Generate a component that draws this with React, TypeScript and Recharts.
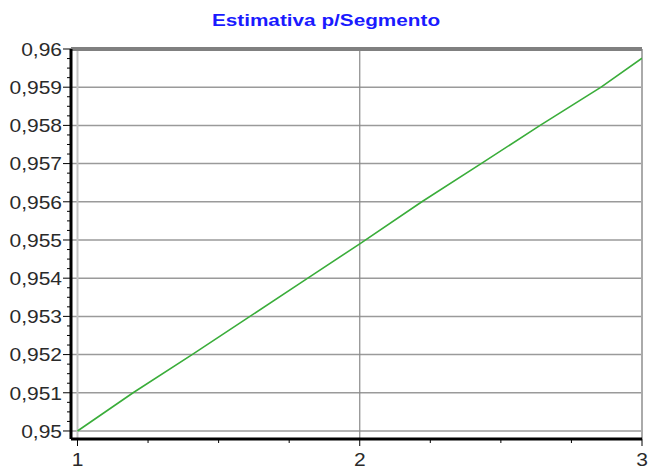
import { LineChart, Line, XAxis, YAxis, ReferenceLine } from "recharts"

// points (x = segment, y = estimate)
const segX = [1, 1.197, 1.406, 1.611, 1.816, 2, 2.22, 2.43, 2.639, 2.855, 3]
const estY = [0.95, 0.951, 0.952, 0.953, 0.954, 0.9549, 0.956, 0.957, 0.958, 0.959, 0.95976]

// axis ticks
const yMajor = [0.95, 0.951, 0.952, 0.953, 0.954, 0.955, 0.956, 0.957, 0.958, 0.959, 0.96]
const xMajor = [1, 2, 3]

const data = segX.map((x, i) => ({ x, y: estY[i] }))

// minor ticks at quarter steps between majors
const yMinor = yMajor.slice(0, -1).flatMap((v) => [1, 2, 3].map((k) => v + k * 0.00025))
const xMinor = xMajor.slice(0, -1).flatMap((v) => [1, 2, 3].map((k) => v + k * 0.25))

const FONT = "'Liberation Sans', Arial, sans-serif"
const fmt = (v: number) => String(Number(v.toFixed(4))).replace(".", ",")

const isMajor = (v: number, list: number[]) => list.some((m) => Math.abs(m - v) < 1e-7)

const YTick = ({ x, y, payload }: any) => {
  const major = isMajor(payload.value, yMajor)
  return (
    <g>
      <line x1={x - (major ? 8 : 4)} y1={y} x2={x} y2={y} stroke="#000" strokeWidth={1} />
      {major && (
        <text
          transform={`translate(${x - 9},${y + 1}) scale(1.2,1)`}
          textAnchor="end"
          dominantBaseline="central"
          fontFamily={FONT}
          fontSize={17.5}
          fill="#2a2a2a"
        >
          {fmt(payload.value)}
        </text>
      )}
    </g>
  )
}

const XTick = ({ x, y, payload }: any) => {
  const major = isMajor(payload.value, xMajor)
  return (
    <g>
      <line x1={x} y1={y} x2={x} y2={y + (major ? 7 : 4)} stroke="#000" strokeWidth={1} />
      {major && (
        <text
          transform={`translate(${x},${y + 21}) scale(1.2,1)`}
          textAnchor="middle"
          dominantBaseline="central"
          fontFamily={FONT}
          fontSize={17.5}
          fill="#2a2a2a"
        >
          {payload.value}
        </text>
      )}
    </g>
  )
}

export default function App() {
  return (
    <div style={{ position: "absolute", left: 0, top: 0, width: 648, height: 471, background: "#fff" }}>
      <div
        style={{
          position: "absolute",
          left: 0,
          top: 11,
          width: 648,
          textAlign: "center",
          fontFamily: FONT,
          fontWeight: "bold",
          fontSize: 17,
          color: "#1a1aff",
          transform: "translateX(2px) scaleX(1.22)",
        }}
      >
        Estimativa p/Segmento
      </div>
      <LineChart width={648} height={471} data={data} margin={{ top: 49, right: 6, bottom: 0, left: 0 }}>
        {yMajor.slice(0, -1).map((v) => (
          <ReferenceLine key={`gy-${v}`} y={v} stroke="#9a9a9a" strokeWidth={1.5} />
        ))}
        <ReferenceLine x={1} stroke="#c4c4c4" strokeWidth={2} />
        <ReferenceLine x={2} stroke="#8a8a8a" strokeWidth={1.2} />
        <ReferenceLine x={3} stroke="#aaaaaa" strokeWidth={2} />
        <ReferenceLine y={0.96} stroke="#808080" strokeWidth={4} />
        <XAxis
          dataKey="x"
          type="number"
          domain={[0.977, 3]}
          allowDataOverflow
          ticks={[...xMajor, ...xMinor].sort((a, b) => a - b)}
          interval={0}
          height={32}
          tickSize={0}
          tickMargin={0}
          tickLine={false}
          axisLine={{ stroke: "#000", strokeWidth: 3 }}
          tick={<XTick />}
        />
        <YAxis
          type="number"
          domain={[0.94979, 0.96]}
          allowDataOverflow
          ticks={[...yMajor, ...yMinor].sort((a, b) => a - b)}
          interval={0}
          width={71}
          tickSize={0}
          tickMargin={0}
          tickLine={false}
          axisLine={{ stroke: "#000", strokeWidth: 3 }}
          tick={<YTick />}
        />
        <Line
          type="linear"
          dataKey="y"
          stroke="#3aad3a"
          strokeWidth={1.6}
          dot={false}
          isAnimationActive={false}
        />
      </LineChart>
    </div>
  )
}
